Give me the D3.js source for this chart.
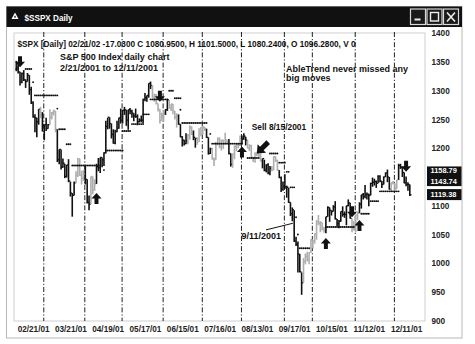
<!DOCTYPE html>
<html>
<head>
<meta charset="utf-8">
<script src="https://cdn.jsdelivr.net/npm/d3@7"></script>
<style>
  body { margin: 0; background: #fff; }
  svg { display: block; font-family: "Liberation Sans", Arial, sans-serif; }
</style>
</head>
<body>
<svg id="chart"></svg>
<script>
// daily bars, 02/07/2001 .. 12/13/2001 (index = trading day)
const highs = [
  1352,1350,1333,1332,1336,1320,1331,1327,1307,1282,
  1259,1253,1268,1272,1263,1241,1253,1242,1268,1263,
  1267,1265,1233,1198,1198,1182,1173,1171,1181,1142,
  1122,1142,1160,1183,1182,1161,1162,1169,1146,1118,
  1151,1151,1146,1173,1183,1184,1184,1193,1248,1253,
  1254,1243,1233,1232,1248,1253,1269,1267,1272,1267,
  1267,1270,1267,1261,1269,1259,1252,1257,1286,1296,
  1292,1313,1316,1310,1295,1294,1278,1268,1262,1265,
  1268,1286,1284,1277,1277,1265,1261,1259,1242,1221,
  1215,1226,1225,1240,1238,1231,1218,1219,1235,1237,
  1239,1237,1234,1219,1201,1201,1184,1211,1219,1219,
  1215,1215,1227,1215,1216,1191,1191,1205,1209,1209,
  1222,1222,1226,1220,1214,1207,1206,1185,1193,1194,
  1198,1191,1182,1180,1172,1174,1169,1169,1186,1186,
  1180,1162,1151,1142,1155,1135,1131,1106,1097,1092,
  1046,1038,1016,984,1009,1017,1020,1019,1042,1041,
  1052,1075,1084,1073,1071,1063,1081,1099,1097,1092,
  1101,1108,1077,1075,1090,1099,1090,1100,1111,1105,
  1078,1074,1085,1090,1106,1119,1122,1136,1123,1121,
  1140,1149,1147,1144,1153,1153,1143,1151,1158,1163,
  1150,1140,1143,1139,1145,1173,1173,1168,1158,1151,
  1141,1137
];
const lows = [
  1334,1330,1309,1313,1317,1305,1316,1293,1277,1253,
  1228,1219,1241,1252,1229,1214,1230,1234,1241,1250,
  1257,1228,1176,1172,1163,1166,1148,1149,1141,1116,
  1081,1118,1139,1150,1152,1137,1143,1137,1104,1092,
  1103,1120,1126,1138,1160,1157,1167,1169,1191,1233,
  1234,1217,1208,1207,1228,1234,1243,1243,1258,1239,
  1232,1259,1253,1247,1253,1240,1245,1245,1243,1282,
  1281,1288,1303,1288,1281,1276,1264,1243,1248,1247,
  1258,1265,1269,1265,1259,1250,1236,1241,1219,1203,
  1205,1207,1207,1215,1223,1214,1201,1206,1211,1221,
  1224,1230,1218,1189,1190,1180,1169,1180,1205,1200,
  1196,1199,1207,1207,1189,1168,1166,1181,1195,1200,
  1204,1207,1215,1205,1200,1195,1182,1176,1175,1186,
  1185,1177,1165,1160,1158,1155,1153,1160,1162,1176,
  1161,1148,1124,1126,1129,1114,1105,1082,1073,1037,
  1030,984,984,945,966,998,1003,998,1018,1026,
  1034,1041,1066,1054,1057,1053,1052,1081,1072,1083,
  1090,1076,1064,1061,1072,1081,1079,1066,1099,1078,
  1054,1057,1054,1075,1087,1095,1111,1113,1111,1099,
  1118,1133,1135,1131,1139,1141,1131,1137,1150,1141,
  1128,1125,1137,1126,1129,1145,1164,1150,1139,1134,
  1126,1117
];
const closes = [
  1341,1333,1315,1330,1319,1316,1327,1302,1279,1255,
  1253,1246,1268,1258,1240,1241,1234,1241,1254,1262,
  1265,1233,1180,1198,1167,1174,1151,1171,1143,1122,
  1118,1140,1153,1182,1153,1148,1160,1146,1106,1103,
  1151,1128,1138,1168,1166,1184,1180,1192,1238,1254,
  1243,1224,1209,1229,1235,1253,1249,1266,1267,1249,
  1267,1264,1261,1256,1255,1246,1249,1249,1285,1288,
  1292,1313,1309,1289,1293,1278,1268,1248,1256,1261,
  1267,1284,1270,1277,1265,1254,1256,1242,1220,1214,
  1208,1213,1223,1237,1225,1219,1217,1211,1226,1224,
  1237,1234,1219,1191,1199,1182,1180,1208,1216,1202,
  1214,1208,1215,1211,1191,1172,1190,1203,1206,1205,
  1211,1216,1221,1214,1200,1204,1184,1183,1190,1191,
  1187,1178,1182,1162,1171,1157,1165,1162,1185,1179,
  1162,1149,1129,1134,1133,1132,1106,1086,1093,1039,
  1033,1016,985,966,1003,1012,1007,1019,1041,1039,
  1051,1072,1070,1071,1062,1057,1081,1097,1092,1090,
  1098,1077,1069,1073,1090,1085,1085,1100,1105,1078,
  1060,1060,1084,1087,1103,1119,1116,1119,1120,1118,
  1139,1141,1142,1139,1151,1143,1137,1150,1157,1150,
  1129,1140,1139,1130,1145,1170,1167,1158,1140,1137,
  1137,1119
];
// bars drawn light grey (index ranges)
const grayRuns = [[13,13],[18,21],[32,36],[40,42],[73,79],[82,86],[92,94],[97,101],
  [105,113],[116,120],[124,131],[137,140],[154,165],[180,183],[201,204]];

// AbleTrend stop dots: [fromIndex, toIndex, price]
const stops = [[0,1,1338],[5,8,1338],[9,9,1315],[10,22,1292],[22,22,1269],[23,26,1233],
  [27,29,1207],[30,45,1170],[47,47,1162],[48,57,1196],[57,61,1230],[62,68,1242],
  [68,71,1259],[72,81,1285],[82,84,1300],[85,88,1287],[88,88,1267],[89,102,1244],
  [104,104,1225],[105,121,1208],[124,130,1183],[136,140,1191],[141,144,1175],
  [145,146,1159],[147,149,1132],[150,150,1080],[151,151,1050],[152,157,1026],
  [166,181,1063],[185,189,1086],[190,194,1108],[195,205,1125]];

// signal arrows: [index, tip price, direction]
const arrows = [[2,1341,"down"],[43,1122,"up"],[77,1281,"down"],[121,1203,"up"],
  [166,1044,"up"],[180,1080,"down"],[184,1075,"up"],[209,1159,"down"]];

const monthStarts = [15,37,57,79,100,121,144,159,182,203];
const tickIdx = [9,29,49,69,89,109,129,149,169,189,209];
const tickLabels = ["02/21/01","03/21/01","04/19/01","05/17/01","06/15/01","07/16/01",
  "08/13/01","09/17/01","10/15/01","11/12/01","12/11/01"];
// 1150 sits under the last-value tags, so it is not shown
const priceTicks = [900,950,1000,1050,1100,1200,1250,1300,1350,1400];
const lastTags = [1158.79,1143.74,1119.38];

const width = 475, height = 344;
const svg = d3.select("#chart").attr("width", width).attr("height", height)
  .attr("viewBox", [0, 0, width, height]);

const x = d3.scaleLinear().domain([0, 211]).range([16.3, 16.3 + 211 * 1.865]);
const y = d3.scaleLinear().domain([900, 1400]).range([320.7, 33.3]);

// window chrome
svg.append("rect").attr("x", 6.5).attr("y", 6.5).attr("width", 455.5).attr("height", 331.5)
  .attr("fill", "#fff").attr("stroke", "#b8b8b8");
svg.append("rect").attr("x", 6.5).attr("y", 6.5).attr("width", 455.5).attr("height", 20.5)
  .attr("fill", "#111");
svg.append("path").attr("d", "M11.5,19 L15,12.5 L18.5,19 Z").attr("fill", "#fff");
svg.append("path").attr("d", "M13.8,17.6 L15,15.3 L16.2,17.6 Z").attr("fill", "#111");
svg.append("text").attr("x", 24.5).attr("y", 20.5).attr("fill", "#fff")
  .attr("font-size", 9.5).attr("font-weight", "bold")
  .attr("textLength", 48).attr("lengthAdjust", "spacingAndGlyphs").text("$SSPX Daily");

const btns = svg.append("g");
[410.5, 427, 443.5].forEach((bx, i) => {
  btns.append("rect").attr("x", bx).attr("y", 9).attr("width", 15).attr("height", 15.5)
    .attr("fill", "#1a1a1a").attr("stroke", "#d8d8d8").attr("stroke-width", 1.2);
  if (i === 0) btns.append("rect").attr("x", bx + 4).attr("y", 18.5).attr("width", 6).attr("height", 2).attr("fill", "#eee");
  if (i === 1) btns.append("rect").attr("x", bx + 3.5).attr("y", 12.5).attr("width", 8).attr("height", 8.5)
    .attr("fill", "none").attr("stroke", "#eee").attr("stroke-width", 1.4);
  if (i === 2) btns.append("path").attr("d", `M${bx + 3.5},12.5 L${bx + 11.5},21.5 M${bx + 11.5},12.5 L${bx + 3.5},21.5`)
    .attr("stroke", "#eee").attr("stroke-width", 1.6);
});

// plot frame
svg.append("rect").attr("x", 14).attr("y", 33).attr("width", 411).attr("height", 288)
  .attr("fill", "none").attr("stroke", "#cfcfcf");

// month separators
svg.append("g").selectAll("line").data(monthStarts).join("line")
  .attr("x1", d => x(d) - 0.5).attr("x2", d => x(d) - 0.5)
  .attr("y1", 32).attr("y2", 321)
  .attr("stroke", "#222").attr("stroke-width", 1)
  .attr("stroke-dasharray", "5,2,1.2,2");

// header line
svg.append("text").attr("x", 17.5).attr("y", 46.5).attr("font-size", 8.2).attr("font-weight", "bold")
  .attr("fill", "#111").attr("textLength", 338).attr("lengthAdjust", "spacingAndGlyphs")
  .text("$SPX [Daily] 02/21/02  -17.0300 C 1080.9500, H 1101.5000, L 1080.2400, O 1096.2800, V 0");

// bars
const isGray = i => grayRuns.some(([a, b]) => i >= a && i <= b);
const bars = svg.append("g");
highs.forEach((h, i) => {
  const c = isGray(i) ? "#adadad" : "#111";
  bars.append("line").attr("x1", x(i)).attr("x2", x(i)).attr("y1", y(h)).attr("y2", y(lows[i]))
    .attr("stroke", c).attr("stroke-width", 1.6);
  bars.append("line").attr("x1", x(i)).attr("x2", x(i) + 1.7).attr("y1", y(closes[i])).attr("y2", y(closes[i]))
    .attr("stroke", c).attr("stroke-width", 1.3);
});

// stop dots
const stopG = svg.append("g");
stops.forEach(([a, b, p]) => {
  if (b > a) stopG.append("line").attr("x1", x(a)).attr("x2", x(b)).attr("y1", y(p)).attr("y2", y(p))
    .attr("stroke", "#333").attr("stroke-width", 0.5);
  d3.range(a, b + 1).forEach(i => {
    stopG.append("circle").attr("cx", x(i)).attr("cy", y(p)).attr("r", 0.95).attr("fill", "#111");
  });
});

// block arrows
function arrowPath(dir) {
  // tip at (0,0), pointing up; flipped for down
  const s = dir === "up" ? 1 : -1;
  return `M0,0 L5,${5.5 * s} L2,${5.5 * s} L2,${11 * s} L-2,${11 * s} L-2,${5.5 * s} L-5,${5.5 * s} Z`;
}
svg.append("g").selectAll("path").data(arrows).join("path")
  .attr("transform", d => `translate(${x(d[0])},${y(d[1])})`)
  .attr("d", d => arrowPath(d[2])).attr("fill", "#111");

// sell arrow (tilted, pointing down-left)
svg.append("path").attr("transform", `translate(${x(129)},${y(1191)}) rotate(45)`)
  .attr("d", "M0,0 L6,-7 L2.5,-7 L2.5,-16 L-2.5,-16 L-2.5,-7 L-6,-7 Z").attr("fill", "#111");

// annotations
const ann = svg.append("g").attr("font-weight", "bold").attr("fill", "#111");
ann.append("text").attr("x", 60).attr("y", 60).attr("font-size", 9).text("S&P 500 Index daily chart");
ann.append("text").attr("x", 60).attr("y", 70.5).attr("font-size", 9).text("2/21/2001 to 12/11/2001");
ann.append("text").attr("x", 286).attr("y", 71.5).attr("font-size", 9).text("AbleTrend never missed any");
ann.append("text").attr("x", 286).attr("y", 80.5).attr("font-size", 9).text("big moves");
ann.append("text").attr("x", x(126.2)).attr("y", y(1232.5)).attr("font-size", 8.4).text("Sell 8/15/2001");
ann.append("text").attr("x", x(120.8)).attr("y", y(1043)).attr("font-size", 9).text("9/11/2001");
svg.append("line").attr("x1", x(133.9)).attr("y1", y(1058)).attr("x2", x(148.3)).attr("y2", y(1069.5))
  .attr("stroke", "#111").attr("stroke-width", 1);

// price axis (right)
const yAxis = svg.append("g").attr("transform", "translate(429.5,0)")
  .call(d3.axisRight(y).tickValues(priceTicks).tickSize(0).tickPadding(2).tickFormat(d3.format("d")));
yAxis.select(".domain").remove();
yAxis.selectAll("text").attr("font-size", 8.2).attr("font-weight", "bold").attr("fill", "#222")
  .attr("font-family", "Liberation Sans, Arial, sans-serif");

// last value tags (first two share one box, nudged apart so they do not collide)
const tags = svg.append("g");
tags.append("rect").attr("x", 427).attr("y", y(lastTags[0]) - 5.5).attr("width", 34.5)
  .attr("height", y(lastTags[1]) - y(lastTags[0]) + 11).attr("fill", "#111");
tags.append("rect").attr("x", 427).attr("y", y(lastTags[2]) - 5.5).attr("width", 34.5)
  .attr("height", 11).attr("fill", "#111");
const tagShift = [-1.3, 1.3, 0];
tags.selectAll("text").data(lastTags).join("text")
  .attr("x", 430.5).attr("y", (d, i) => y(d) + tagShift[i]).attr("dy", "0.35em")
  .attr("font-size", 7.4).attr("font-weight", "bold").attr("fill", "#fff")
  .text(d => d.toFixed(2));

// date axis
const xAxis = svg.append("g").attr("transform", "translate(0,321)")
  .call(d3.axisBottom(x).tickValues(tickIdx).tickSize(0).tickPadding(5.2)
    .tickFormat((d, i) => tickLabels[i]));
xAxis.select(".domain").remove();
xAxis.selectAll("text").attr("font-size", 8.2).attr("font-weight", "bold").attr("fill", "#222")
  .attr("font-family", "Liberation Sans, Arial, sans-serif");
</script>
</body>
</html>
